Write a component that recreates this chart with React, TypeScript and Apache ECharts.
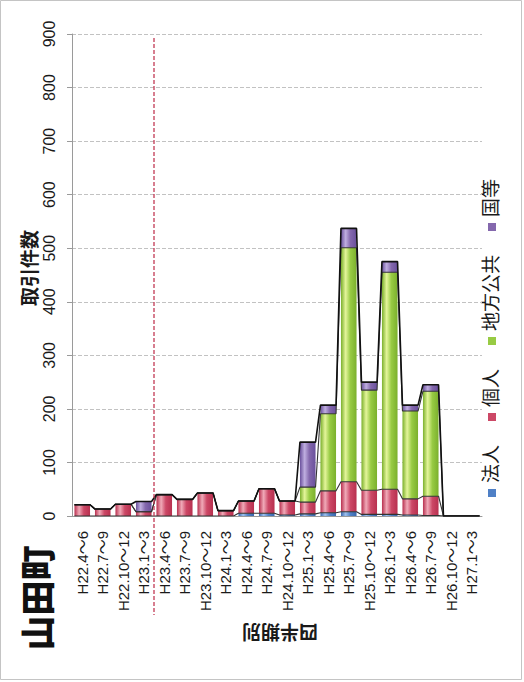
import React, { useEffect, useRef } from "react";
import * as echarts from "echarts";

const categories = [
  "H22.4～6", "H22.7～9", "H22.10～12", "H23.1～3",
  "H23.4～6", "H23.7～9", "H23.10～12", "H24.1～3",
  "H24.4～6", "H24.7～9", "H24.10～12", "H25.1～3",
  "H25.4～6", "H25.7～9", "H25.10～12", "H26.1～3",
  "H26.4～6", "H26.7～9", "H26.10～12", "H27.1～3",
];
const seriesNames = ["法人", "個人", "地方公共", "国等"];
const houjin = [0, 0, 0, 0, 0, 0, 0, 0, 5, 5, 2, 4, 6, 8, 3, 3, 2, 1, 0, 0];
const kojin = [21, 13, 22, 8, 40, 31, 43, 10, 23, 46, 26, 22, 41, 56, 45, 47, 30, 36, 0, 0];
const chihou = [0, 0, 0, 0, 0, 0, 0, 0, 0, 0, 0, 28, 144, 437, 187, 405, 164, 196, 0, 0];
const kuni = [0, 0, 0, 19, 0, 0, 0, 0, 0, 0, 0, 84, 16, 36, 15, 20, 11, 12, 0, 0];
const valueMax = 900;
const valueInterval = 100;
const dividerIndex = 4; // boundary before H23.4～6
const title = "山田町";
const valueAxisName = "取引件数";
const categoryAxisName = "四半期別";

const seriesData = [houjin, kojin, chihou, kuni];
const palette = [
  { dark: "#3a67ad", light: "#9dc0ec", mid: "#4f80c6" },
  { dark: "#b8304f", light: "#f0aab8", mid: "#cc4866" },
  { dark: "#7bb02c", light: "#e4f59a", mid: "#98cb44" },
  { dark: "#6a509c", light: "#bfaee0", mid: "#8468ad" },
];

const HALF = 0.38; // half bar width as fraction of a category

function grad(c: { dark: string; light: string; mid: string }) {
  return new echarts.graphic.LinearGradient(0, 0, 1, 0, [
    { offset: 0, color: c.dark },
    { offset: 0.3, color: c.light },
    { offset: 0.6, color: c.mid },
    { offset: 1, color: c.dark },
  ]);
}

export default function App() {
  const ref = useRef<HTMLDivElement>(null);
  useEffect(() => {
    if (!ref.current) return;
    const chart = echarts.init(ref.current, null, { renderer: "svg" });
    const latin = "'Liberation Sans', 'Noto Sans CJK JP', sans-serif";
    const jp = "'Noto Sans CJK JP', sans-serif";

    const bars = seriesNames.map((name, k) => ({
      name,
      type: "bar",
      stack: "total",
      barCategoryGap: "24%",
      data: seriesData[k],
      itemStyle: { color: grad(palette[k]) },
      xAxisIndex: 0,
      yAxisIndex: 0,
      z: 2,
    }));

    const cum: number[][] = [];
    seriesData.forEach((arr, k) => {
      cum.push(arr.map((v, i) => v + (k > 0 ? cum[k - 1][i] : 0)));
    });
    const lines = cum.map((c, k) => ({
      name: "line" + k,
      type: "line",
      xAxisIndex: 1,
      yAxisIndex: 0,
      symbol: "none",
      silent: true,
      z: 4,
      lineStyle: { color: k === 3 ? "#111" : "#333", width: k === 3 ? 1.6 : 1.1 },
      data: c.flatMap((v, i) => [
        [i + 0.5 - HALF, v],
        [i + 0.5 + HALF, v],
      ]),
    }));

    const legendX = 492;
    const legendStart = 493;
    const legendFont = 19;
    const legendItems: any[] = [];
    let yPos = legendStart;
    seriesNames.forEach((name, k) => {
      legendItems.push({
        type: "rect",
        id: "lgi" + k,
        shape: { x: legendX - 4, y: yPos - 4, width: 8, height: 8 },
        style: { fill: palette[k].mid },
      });
      legendItems.push({
        type: "text",
        id: "lgt" + k,
        x: legendX - 3,
        y: yPos - 10,
        rotation: Math.PI / 2,
        style: {
          text: name,
          fontSize: legendFont,
          fontFamily: jp,
          fill: "#1a1a1a",
          align: "left",
          verticalAlign: "middle",
          textAlign: "left",
          textVerticalAlign: "middle",
        },
      });
      yPos -= 10 + name.length * legendFont + 28;
    });

    const baseGraphic: any[] = [
      {
        type: "rect",
        id: "border",
        shape: { x: 0.5, y: 0.5, width: 521, height: 679 },
        style: { fill: "none", stroke: "#c4c4c4", lineWidth: 1 },
      },
      {
        type: "text",
        id: "title",
        x: 35,
        y: 598,
        rotation: Math.PI / 2,
        style: {
          text: title,
          fontSize: 35,
          fontWeight: 900,
          fontFamily: jp,
          fill: "#111",
          align: "center",
          verticalAlign: "middle",
          textAlign: "center",
          textVerticalAlign: "middle",
        },
      },
      {
        type: "text",
        id: "yname",
        x: 28,
        y: 268,
        rotation: Math.PI / 2,
        style: {
          text: valueAxisName,
          fontSize: 19,
          fontWeight: "bold",
          fontFamily: jp,
          fill: "#1a1a1a",
          align: "center",
          verticalAlign: "middle",
          textAlign: "center",
          textVerticalAlign: "middle",
        },
      },
      {
        type: "text",
        id: "xname",
        x: 280,
        y: 633,
        rotation: Math.PI,
        style: {
          text: categoryAxisName,
          fontSize: 19,
          fontWeight: "bold",
          fontFamily: jp,
          fill: "#1a1a1a",
          align: "center",
          verticalAlign: "middle",
          textAlign: "center",
          textVerticalAlign: "middle",
        },
      },
      ...legendItems,
    ];

    chart.setOption({
      animation: false,
      backgroundColor: "#ffffff",
      grid: { left: 72, right: 42, top: 34, bottom: 166 },
      xAxis: [
        {
          type: "category",
          data: categories,
          axisLine: { lineStyle: { color: "#9a9a9a" } },
          axisTick: { show: false },
          axisLabel: {
            rotate: 90,
            margin: 15,
            interval: 0,
            fontSize: 15,
            fontFamily: latin,
            color: "#1a1a1a",
          },
        },
        { type: "value", min: 0, max: categories.length, show: false },
      ],
      yAxis: {
        type: "value",
        min: 0,
        max: valueMax,
        interval: valueInterval,
        axisLine: { show: true, lineStyle: { color: "#9a9a9a" } },
        axisTick: { show: true, length: 5, lineStyle: { color: "#9a9a9a" } },
        splitLine: { lineStyle: { color: "#c2c2c2", type: [4, 2] } },
        axisLabel: {
          rotate: 90,
          margin: 15,
          fontSize: 16,
          fontFamily: latin,
          color: "#1a1a1a",
        },
      },
      series: [...bars, ...lines],
      graphic: baseGraphic,
    });

    const top = chart.convertToPixel({ xAxisIndex: 1, yAxisIndex: 0 } as any, [dividerIndex, valueMax]) as number[];
    const zero = chart.convertToPixel({ xAxisIndex: 1, yAxisIndex: 0 } as any, [dividerIndex, 0]) as number[];
    chart.setOption({
      graphic: [
        ...baseGraphic,
        {
          type: "line",
          id: "divider",
          z: 10,
          shape: { x1: top[0], y1: top[1] + 4, x2: zero[0], y2: zero[1] + 99 },
          style: { stroke: "#c23a55", lineWidth: 1.3, lineDash: [4, 2] },
        },
      ],
    });

    return () => chart.dispose();
  }, []);
  return (
    <div
      ref={ref}
      style={{ position: "absolute", left: 0, top: 0, width: 524, height: 682 }}
    />
  );
}
